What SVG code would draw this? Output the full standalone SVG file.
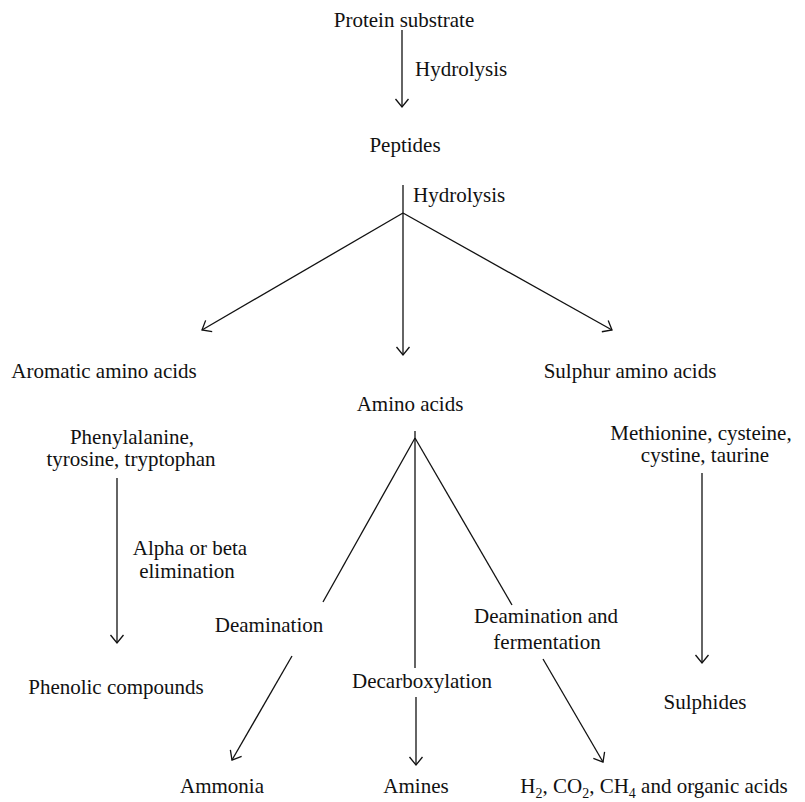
<svg xmlns="http://www.w3.org/2000/svg" width="805" height="802" viewBox="0 0 805 802">
<style>
text{font-family:"Liberation Serif","Times New Roman",serif;font-size:21px;fill:#111;text-anchor:middle}
text.s{text-anchor:start}
.c line,.c path{stroke:#111;stroke-width:1.3;fill:none}
tspan.sub{font-size:14px}
</style>
<defs>
<marker id="ah" markerUnits="userSpaceOnUse" markerWidth="20" markerHeight="20" refX="10" refY="10" orient="auto" overflow="visible">
<path d="M2,3.5 L10,10 L2,16.5" fill="none" stroke="#111" stroke-width="1.3"/>
</marker>
</defs>
<rect width="805" height="802" fill="#fff"/>
<g id="protein"><text x="404" y="27">Protein substrate</text></g>
<g id="peptides"><text x="405" y="152">Peptides</text></g>
<g id="aromatic"><text x="104" y="378">Aromatic amino acids</text></g>
<g id="aminoacids"><text x="410" y="411">Amino acids</text></g>
<g id="sulphur"><text x="630" y="378">Sulphur amino acids</text></g>
<g id="phenyl"><text x="132" y="444">Phenylalanine,</text><text x="131" y="466">tyrosine, tryptophan</text></g>
<g id="methionine"><text x="701" y="440">Methionine, cysteine,</text><text x="705" y="462">cystine, taurine</text></g>
<g id="phenolic"><text x="116" y="694">Phenolic compounds</text></g>
<g id="sulphides"><text x="705" y="709">Sulphides</text></g>
<g id="ammonia"><text x="222" y="793">Ammonia</text></g>
<g id="amines"><text x="416" y="793">Amines</text></g>
<g id="gases"><text x="654" y="793">H<tspan class="sub" dy="5">2</tspan><tspan dy="-5">, CO</tspan><tspan class="sub" dy="5">2</tspan><tspan dy="-5">, CH</tspan><tspan class="sub" dy="5">4</tspan><tspan dy="-5"> and organic acids</tspan></text></g>
<g id="labels">
<text class="s" x="415" y="76">Hydrolysis</text>
<text class="s" x="413" y="202">Hydrolysis</text>
<text x="190" y="555">Alpha or beta</text>
<text x="187" y="578">elimination</text>
<text x="269" y="632">Deamination</text>
<text x="546" y="623">Deamination and</text>
<text x="547" y="649">fermentation</text>
<text x="422" y="688">Decarboxylation</text>
</g>
<g class="c" id="connectors">
<line x1="402" y1="30" x2="402" y2="107" marker-end="url(#ah)"/>
<line x1="403" y1="185" x2="403" y2="213"/>
<line x1="403" y1="213" x2="202" y2="330" marker-end="url(#ah)"/>
<line x1="403" y1="213" x2="403" y2="355" marker-end="url(#ah)"/>
<line x1="403" y1="213" x2="612" y2="330" marker-end="url(#ah)"/>
<line x1="117" y1="478" x2="117" y2="643" marker-end="url(#ah)"/>
<line x1="415" y1="431" x2="415" y2="438"/>
<line x1="415" y1="438" x2="323" y2="602"/>
<line x1="415" y1="438" x2="415" y2="668"/>
<line x1="415" y1="438" x2="512" y2="605"/>
<line x1="292" y1="656" x2="232" y2="760" marker-end="url(#ah)"/>
<line x1="416" y1="697" x2="416" y2="765" marker-end="url(#ah)"/>
<line x1="543" y1="659" x2="603" y2="762" marker-end="url(#ah)"/>
<line x1="702" y1="473" x2="702" y2="663" marker-end="url(#ah)"/>
</g>
</svg>
